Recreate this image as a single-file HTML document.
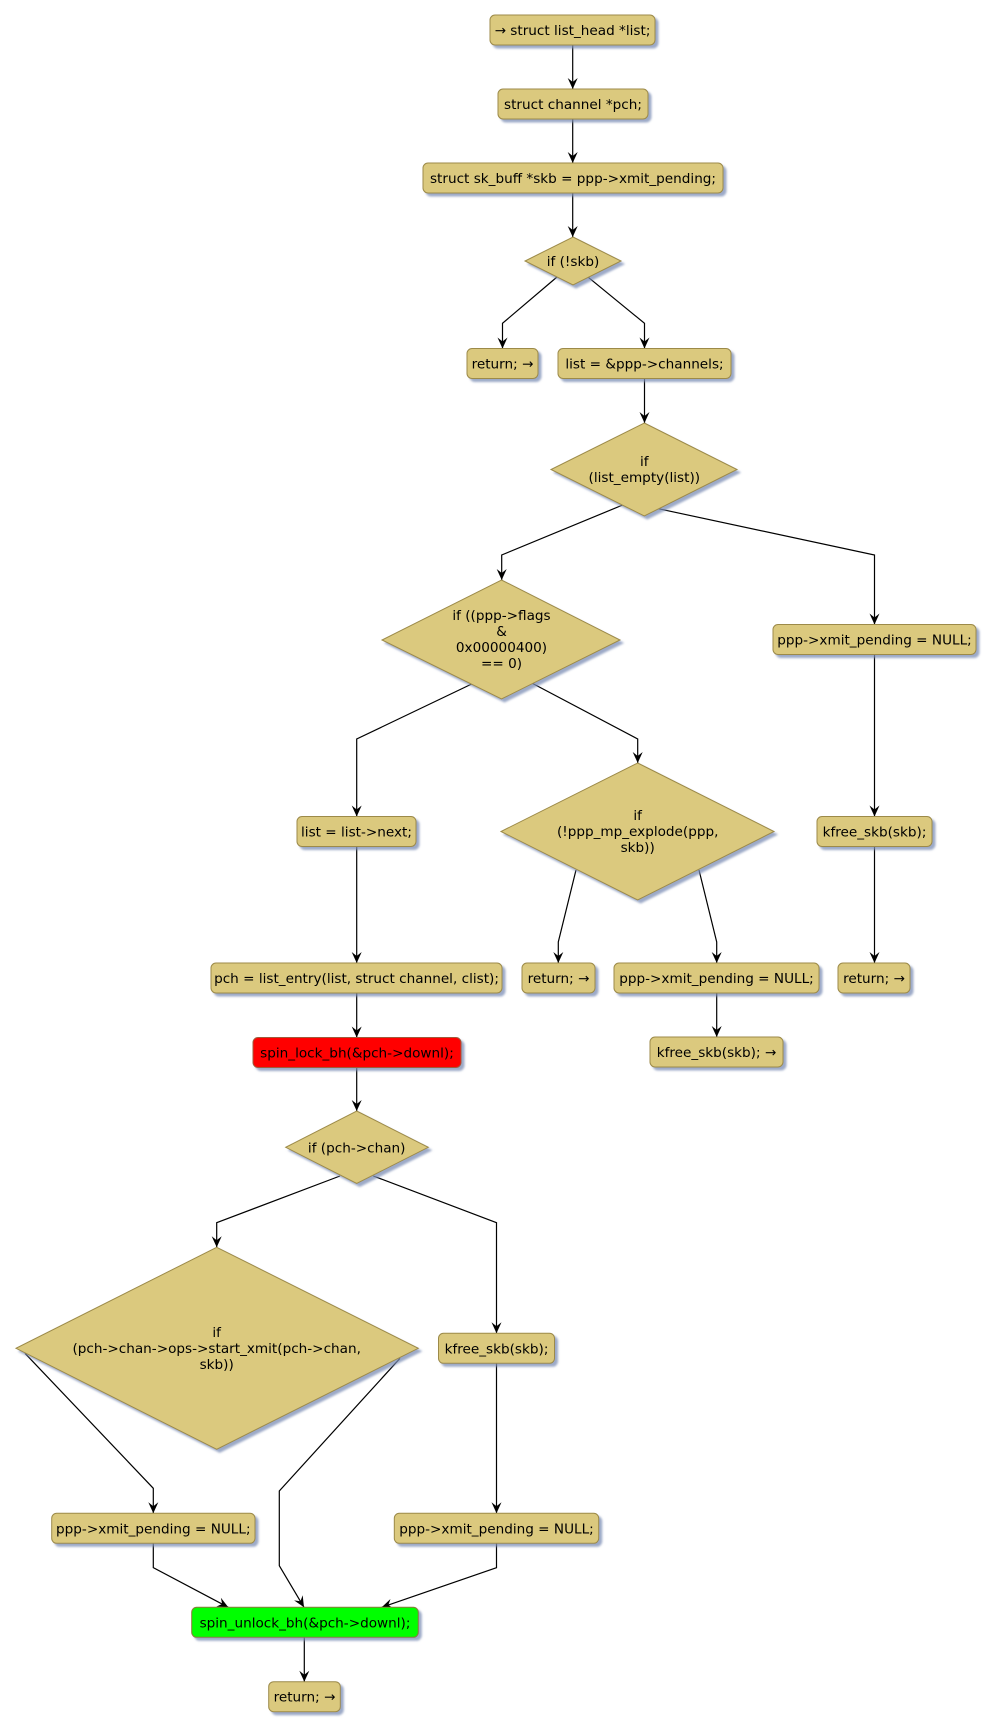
<!DOCTYPE html>
<html>
<head>
<meta charset="utf-8">
<style>
  html,body{margin:0;padding:0;background:#ffffff;}
  svg{display:block;}
  text{font-family:"DejaVu Sans","Liberation Sans",sans-serif;font-size:13.6px;fill:#000;}
</style>
</head>
<body>
<svg width="995" height="1730" viewBox="0 0 995 1730" xmlns="http://www.w3.org/2000/svg">
  <defs>
    <filter id="sh" x="-10%" y="-20%" width="130%" height="160%">
      <feDropShadow dx="3" dy="3" stdDeviation="1" flood-color="#7b8db5" flood-opacity="0.75"/>
    </filter>
    <marker id="ah" viewBox="-13 -7 14 14" refX="0" refY="0" markerWidth="14" markerHeight="14" markerUnits="userSpaceOnUse" orient="auto">
      <path d="M0,0 L-11,-5 L-7,0 L-11,5 Z" fill="#000"/>
    </marker>
  </defs>

  <!-- connectors -->
  <g fill="none" stroke="#000" stroke-width="1.2" marker-end="url(#ah)">
    <polyline points="572.7,45 572.7,89"/>
    <polyline points="572.7,119 572.7,163"/>
    <polyline points="572.7,193 572.7,237"/>
    <polyline points="557,277 502.5,323.3 502.5,348.5"/>
    <polyline points="588.3,277.3 644.5,323.3 644.5,348.5"/>
    <polyline points="644.5,378.5 644.5,423"/>
    <polyline points="622.7,505 501.7,555 501.7,580"/>
    <polyline points="658.3,508.7 874.5,555 874.5,624.5"/>
    <polyline points="471.7,684 356.7,739 356.7,816.5"/>
    <polyline points="531.7,683 637.7,739 637.7,763"/>
    <polyline points="874.5,654.5 874.5,816.5"/>
    <polyline points="874.5,846.5 874.5,963"/>
    <polyline points="356.7,846.5 356.7,963"/>
    <polyline points="576,870 558.3,942 558.3,963"/>
    <polyline points="699,870 716.7,942 716.7,963"/>
    <polyline points="716.7,993 716.7,1037"/>
    <polyline points="356.7,993 356.7,1037.5"/>
    <polyline points="356.7,1067.5 356.7,1111"/>
    <polyline points="340,1176 216.7,1222.7 216.7,1247.3"/>
    <polyline points="373.3,1176 496.5,1222.7 496.5,1333.3"/>
    <polyline points="25,1353.3 153.3,1488.3 153.3,1513.3"/>
    <polyline points="400,1358.3 279.3,1491 279.3,1565.7 304,1607.3"/>
    <polyline points="496.5,1363.3 496.5,1513.3"/>
    <polyline points="153.3,1543.3 153.3,1567.7 228.3,1607.3"/>
    <polyline points="496.5,1543.3 496.5,1567.7 381.7,1607.3"/>
    <polyline points="304.3,1637.3 304.3,1681.7"/>
  </g>

  <!-- shapes -->
  <g stroke="#9c8a48" stroke-width="1" fill="#dbc97e" filter="url(#sh)">
    <rect x="490" y="15" width="165" height="30" rx="5"/>
    <rect x="498" y="89" width="150" height="30" rx="5"/>
    <rect x="423" y="163" width="300" height="30" rx="5"/>
    <polygon points="573,237 621,261 573,285 525,261"/>
    <rect x="467" y="348.5" width="71" height="30" rx="5"/>
    <rect x="558" y="348.5" width="173" height="30" rx="5"/>
    <polygon points="644.3,423 737,469.5 644.3,516 551,469.5"/>
    <polygon points="501.5,580 620,640 501.5,699 382,640"/>
    <rect x="773" y="624.5" width="203" height="30" rx="5"/>
    <rect x="297" y="816.5" width="119" height="30" rx="5"/>
    <polygon points="637.7,763 774,831.5 637.7,900 501,831.5"/>
    <rect x="817" y="816.5" width="115" height="30" rx="5"/>
    <rect x="211" y="963" width="291" height="30" rx="5"/>
    <rect x="522" y="963" width="73" height="30" rx="5"/>
    <rect x="614" y="963" width="205" height="30" rx="5"/>
    <rect x="838" y="963" width="72" height="30" rx="5"/>
    <rect x="650" y="1037" width="133" height="30" rx="5"/>
    <rect x="253" y="1037.5" width="208" height="30" rx="5" fill="#ff0000" stroke="#a05a3a"/>
    <polygon points="356.7,1111 428.3,1147.3 356.7,1183.5 285.7,1147.3"/>
    <polygon points="216.7,1247.3 418.3,1348.3 216.7,1449.3 16,1348.3"/>
    <rect x="438.5" y="1333.3" width="116" height="30" rx="5"/>
    <rect x="51.7" y="1513.3" width="203.3" height="30" rx="5"/>
    <rect x="394.3" y="1513.3" width="204.4" height="30" rx="5"/>
    <rect x="191.7" y="1607.3" width="226.6" height="30" rx="5" fill="#00ff00" stroke="#8a7a3a"/>
    <rect x="268.7" y="1681.7" width="71.6" height="30" rx="5"/>
  </g>

  <!-- labels -->
  <g text-anchor="middle">
    <text x="572.5" y="35">→ struct list_head *list;</text>
    <text x="573" y="109">struct channel *pch;</text>
    <text x="573" y="183">struct sk_buff *skb = ppp-&gt;xmit_pending;</text>
    <text x="573" y="266">if (!skb)</text>
    <text x="502.5" y="368.5">return; →</text>
    <text x="644.5" y="368.5">list = &amp;ppp-&gt;channels;</text>
    <text x="644.3" y="466">if</text>
    <text x="644.3" y="482">(list_empty(list))</text>
    <text x="501.5" y="620">if ((ppp-&gt;flags</text>
    <text x="501.5" y="636">&amp;</text>
    <text x="501.5" y="652">0x00000400)</text>
    <text x="501.5" y="668">== 0)</text>
    <text x="874.5" y="644.5">ppp-&gt;xmit_pending = NULL;</text>
    <text x="356.5" y="836.5">list = list-&gt;next;</text>
    <text x="637.7" y="820">if</text>
    <text x="637.7" y="836">(!ppp_mp_explode(ppp,</text>
    <text x="637.7" y="852">skb))</text>
    <text x="874.5" y="836.5">kfree_skb(skb);</text>
    <text x="356.5" y="983">pch = list_entry(list, struct channel, clist);</text>
    <text x="558.5" y="983">return; →</text>
    <text x="716.5" y="983">ppp-&gt;xmit_pending = NULL;</text>
    <text x="874" y="983">return; →</text>
    <text x="716.5" y="1057">kfree_skb(skb); →</text>
    <text x="357" y="1057.5">spin_lock_bh(&amp;pch-&gt;downl);</text>
    <text x="356.7" y="1152.3">if (pch-&gt;chan)</text>
    <text x="216.7" y="1337">if</text>
    <text x="216.7" y="1353">(pch-&gt;chan-&gt;ops-&gt;start_xmit(pch-&gt;chan,</text>
    <text x="216.7" y="1369">skb))</text>
    <text x="496.5" y="1353.3">kfree_skb(skb);</text>
    <text x="153.3" y="1533.3">ppp-&gt;xmit_pending = NULL;</text>
    <text x="496.5" y="1533.3">ppp-&gt;xmit_pending = NULL;</text>
    <text x="305" y="1627.3">spin_unlock_bh(&amp;pch-&gt;downl);</text>
    <text x="304.5" y="1701.7">return; →</text>
  </g>
</svg>
</body>
</html>
